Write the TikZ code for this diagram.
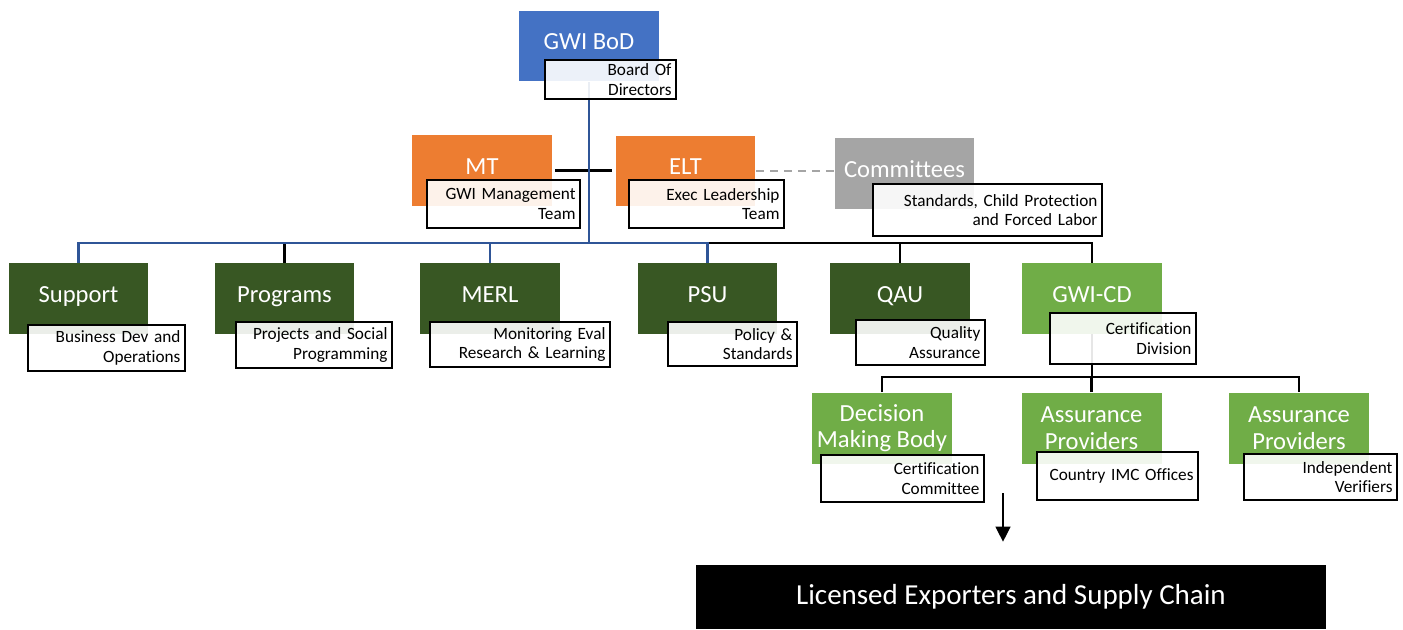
\documentclass[tikz,border=0pt]{standalone}
\usepackage{fontspec}
\setmainfont[Ligatures=NoCommon]{Carlito}
\usetikzlibrary{arrows.meta,backgrounds}
\definecolor{bodblue}{HTML}{4472C4}
\definecolor{mtorange}{HTML}{ED7D31}
\definecolor{comgray}{HTML}{A5A5A5}
\definecolor{deptgreen}{HTML}{385723}
\definecolor{cdgreen}{HTML}{70AD47}
\definecolor{linkblue}{HTML}{2F5597}

\begin{document}
\begin{tikzpicture}[x=0.02cm, y=-0.02cm,
  head/.style={minimum width=2.8cm, minimum height=1.42cm, inner sep=0pt,
    text=white, align=center, font=\fontsize{14}{15.2}\selectfont},
  onehead/.style={head, text height=10pt, text depth=5.6pt},
  subbox/.style={draw=black, line width=1.3pt, fill=white, fill opacity=0.9,
    text opacity=1, inner xsep=0.09cm, inner ysep=0pt, align=right,
    font=\fontsize{9.8}{11}\selectfont},
  link/.style={draw=black, line width=1.4pt},
  bluelink/.style={draw=linkblue, line width=1.5pt}]
  \useasboundingbox (0,0) rectangle (1403,629);

  % board and leadership
  \node[onehead, fill=bodblue] (bod) at (589,46) {GWI BoD};
  \node[onehead, fill=mtorange] (mt) at (482,170.5) {MT};
  \node[onehead, fill=mtorange] (elt) at (685.5,171) {ELT};
  \node[onehead, fill=comgray] (com) at (904.5,173.5) {Committees};

  % units
  \foreach \n/\x/\t in {sup/78.5/Support, prog/284.5/Programs, merl/490/MERL,
                        psu/707.5/PSU, qau/900/QAU}
    {\node[onehead, fill=deptgreen] (\n) at (\x,298.5) {\t};}
  \node[onehead, fill=cdgreen] (cd) at (1092,298.5) {GWI-CD};

  % certification division
  \node[head, fill=cdgreen] (dmb) at (882,428) {Decision\\Making Body};
  \node[head, fill=cdgreen] (ap1) at (1091.5,428) {Assurance\\Providers};
  \node[head, fill=cdgreen] (ap2) at (1299,428) {Assurance\\Providers};

  % descriptions
  \node[subbox, text width=2.44cm, minimum height=0.78cm] (bodsub) at (610.5,79.5) {Board Of\\Directors};
  \node[subbox, text width=2.88cm, minimum height=0.96cm] (mtsub) at (503.5,204) {GWI Management\\Team};
  \node[subbox, text width=2.92cm, minimum height=0.96cm] (eltsub) at (706.5,204) {Exec Leadership\\Team};
  \node[subbox, text width=4.40cm, minimum height=1.04cm] (comsub) at (987.5,210) {Standards, Child Protection\\and Forced Labor};
  \node[subbox, text width=2.96cm, minimum height=0.92cm] (supsub) at (106.5,348) {Business Dev and\\Operations};
  \node[subbox, text width=2.94cm, minimum height=0.92cm] (progsub) at (314,345) {Projects and Social\\Programming};
  \node[subbox, text width=3.42cm, minimum height=0.90cm] (merlsub) at (520,344.5) {Monitoring Eval\\Research \& Learning};
  \node[subbox, text width=2.40cm, minimum height=0.88cm] (psusub) at (732.5,344) {Policy \&\\Standards};
  \node[subbox, text width=2.40cm, minimum height=0.90cm] (qausub) at (920.5,342.5) {Quality\\Assurance};
  \node[subbox, text width=2.74cm, minimum height=1.02cm] (cdsub) at (1123,338.5) {Certification\\Division};
  \node[subbox, text width=3.08cm, minimum height=0.94cm] (dmbsub) at (902.5,478.5) {Certification\\Committee};
  \node[subbox, text width=3.04cm, minimum height=0.96cm] (ap1sub) at (1117.5,476) {Country IMC Offices};
  \node[subbox, text width=2.88cm, minimum height=0.92cm] (ap2sub) at (1320.5,477) {Independent\\Verifiers};

  \node[fill=black, minimum width=12.6cm, minimum height=1.28cm, text=white,
        font=\fontsize{16.5}{18}\selectfont] (chain) at (1011,597) {Licensed Exporters and Supply Chain};

  % connectors
  \coordinate (bar) at (589,243);
  \coordinate (cdbar) at (1092,377);
  \coordinate (arrtop) at (1003,493);
  \begin{scope}[on background layer]
    \draw[link, shorten <=0.06cm, shorten >=0.06cm] (mt.east) -- (mt.east -| elt.west);
    \draw[draw=comgray, line width=1.1pt, dash pattern=on 0.16cm off 0.12cm] (elt.east) -- (elt.east -| com.west);
    \draw[link] (prog.north) -- (prog.north |- bar);
    \draw[link] (psu.north |- bar) -| (cd.north);
    \draw[link] (qau.north) -- (qau.north |- bar);
    \draw[bluelink] (bod.south) -- (bar);
    \draw[bluelink] (sup.north) |- (bar) -| (psu.north);
    \draw[bluelink] (merl.north) -- (merl.north |- bar);
    \draw[link] (cd.south) -- (cdbar);
    \draw[link] (dmb.north) |- (cdbar) -| (ap2.north);
    \draw[link] (ap1.north) -- (ap1.north |- cdbar);
  \end{scope}
  \draw[-{Triangle[width=0.3cm,length=0.3cm]}, line width=0.7pt, shorten >=0.46cm]
    (arrtop) -- (arrtop |- chain.north);
\end{tikzpicture}
\end{document}
